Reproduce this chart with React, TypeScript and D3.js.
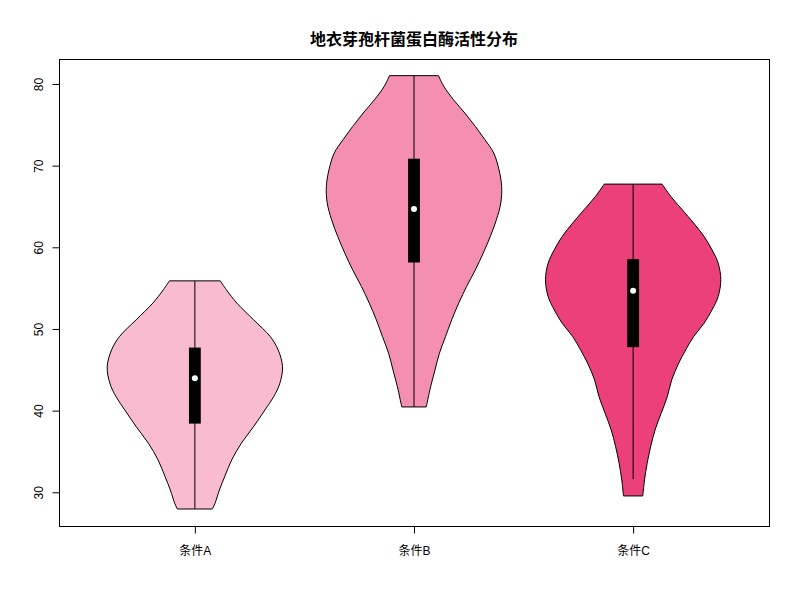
import * as d3 from 'd3';
import { useEffect, useRef } from 'react';

// Categories and colours
const categories = ['条件A', '条件B', '条件C'];
const fills = ['#F8BBD0', '#F48FB1', '#EC407A'];
const title = '地衣芽孢杆菌蛋白酶活性分布';
const yTicks = [30, 40, 50, 60, 70, 80];

// Violin outlines: value and relative density (max = 1)
const profileValuesA = [27.95, 28.65, 30.28, 31.91, 33.96, 36.0, 38.04, 40.09, 41.72, 43.36, 45.39, 47.44, 49.07, 51.12, 53.16, 54.79, 55.89];
const profileDensityA = [0.2, 0.23, 0.28, 0.34, 0.42, 0.53, 0.67, 0.8, 0.9, 0.97, 1.0, 0.95, 0.86, 0.67, 0.48, 0.36, 0.29];

const profileValuesB = [40.45, 42.94, 44.99, 47.03, 49.07, 51.12, 53.16, 55.2, 57.24, 59.29, 61.32, 63.37, 65.42, 67.45, 69.5, 71.54, 73.17, 74.8, 76.44, 78.08, 79.71, 81.02];
const profileDensityB = [0.14, 0.19, 0.24, 0.29, 0.36, 0.43, 0.51, 0.6, 0.7, 0.79, 0.87, 0.94, 0.99, 1.0, 0.97, 0.91, 0.81, 0.7, 0.58, 0.45, 0.34, 0.28];

const profileValuesC = [29.55, 31.51, 33.55, 35.59, 37.63, 39.68, 41.72, 43.76, 45.81, 47.44, 49.07, 50.71, 52.34, 53.97, 56.02, 58.06, 59.69, 61.32, 62.97, 64.6, 66.23, 67.74];
const profileDensityC = [0.11, 0.13, 0.16, 0.2, 0.25, 0.32, 0.39, 0.44, 0.52, 0.6, 0.69, 0.81, 0.9, 0.97, 1.0, 0.97, 0.9, 0.81, 0.69, 0.56, 0.43, 0.33];

// Box summaries
const q1 = [38.41, 58.14, 47.77];
const medians = [43.97, 64.68, 54.67];
const q3 = [47.72, 70.85, 58.55];
const whiskerLow = [27.95, 40.45, 31.6];
const whiskerHigh = [55.89, 81.02, 67.74];

const profileValues = [profileValuesA, profileValuesB, profileValuesC];
const profileDensity = [profileDensityA, profileDensityB, profileDensityC];

const FONT = '"Liberation Sans", Arial, "Noto Sans CJK SC", sans-serif';

export default function App() {
    const svgRef = useRef<SVGSVGElement>(null);

    useEffect(() => {
        const svg = d3.select(svgRef.current);
        svg.selectAll('*').remove();

        const width = 800;
        const height = 600;
        const margin = { top: 59, right: 31, bottom: 74, left: 59 };

        const x = d3.scaleLinear().domain([0.38, 3.62]).range([margin.left, width - margin.right]);
        const y = d3.scaleLinear().domain([25.87, 83.06]).range([height - margin.bottom, margin.top]);

        const halfWidth = 0.4;
        const boxHalf = 0.027;

        svg.append('rect').attr('width', width).attr('height', height).attr('fill', '#fff');

        // Violins
        categories.forEach((_, i) => {
            const c = i + 1;
            const pts = profileValues[i].map((v, j) => ({ v, d: profileDensity[i][j] }));
            const area = d3
                .area<{ v: number; d: number }>()
                .y((p) => y(p.v))
                .x0((p) => x(c - p.d * halfWidth))
                .x1((p) => x(c + p.d * halfWidth))
                .curve(d3.curveCatmullRom);

            svg.append('path')
                .datum(pts)
                .attr('d', area)
                .attr('fill', fills[i])
                .attr('stroke', '#000')
                .attr('stroke-width', 1);

            svg.append('line')
                .attr('x1', x(c)).attr('x2', x(c))
                .attr('y1', y(whiskerLow[i])).attr('y2', y(whiskerHigh[i]))
                .attr('stroke', '#000')
                .attr('stroke-width', 1);

            svg.append('rect')
                .attr('x', x(c - boxHalf))
                .attr('width', x(c + boxHalf) - x(c - boxHalf))
                .attr('y', y(q3[i]))
                .attr('height', y(q1[i]) - y(q3[i]))
                .attr('fill', '#000');

            svg.append('circle')
                .attr('cx', x(c))
                .attr('cy', y(medians[i]))
                .attr('r', 3)
                .attr('fill', '#fff');
        });

        // Plot box
        svg.append('rect')
            .attr('x', margin.left + 0.5)
            .attr('y', margin.top + 0.5)
            .attr('width', width - margin.left - margin.right)
            .attr('height', height - margin.top - margin.bottom)
            .attr('fill', 'none')
            .attr('stroke', '#000')
            .attr('stroke-width', 1);

        // Y axis
        const yAxis = svg.append('g')
            .attr('transform', `translate(${margin.left + 0.5},0)`)
            .call(d3.axisLeft(y).tickValues(yTicks).tickSize(7).tickSizeOuter(0));
        yAxis.select('.domain').remove();
        yAxis.selectAll('text')
            .attr('font-family', FONT)
            .attr('font-size', 12)
            .attr('fill', '#000')
            .attr('x', null)
            .attr('dy', null)
            .attr('text-anchor', 'middle')
            .attr('transform', 'translate(-17,0) rotate(-90)');

        // X axis
        const xAxis = svg.append('g')
            .attr('transform', `translate(0,${height - margin.bottom + 0.5})`)
            .call(d3.axisBottom(x).tickValues([1, 2, 3]).tickSize(7).tickSizeOuter(0)
                .tickFormat((d) => categories[(d as number) - 1]));
        xAxis.select('.domain').remove();
        xAxis.selectAll('text')
            .attr('font-family', FONT)
            .attr('font-size', 12)
            .attr('fill', '#000')
            .attr('dy', null)
            .attr('y', 28);

        // Title
        svg.append('text')
            .attr('x', (margin.left + width - margin.right) / 2)
            .attr('y', 45)
            .attr('text-anchor', 'middle')
            .attr('font-family', '"Noto Sans CJK SC", sans-serif')
            .attr('font-weight', 'bold')
            .attr('font-size', 16)
            .text(title);
    }, []);

    return (
        <svg ref={svgRef} width={800} height={600}
            style={{ position: 'absolute', left: 0, top: 0, display: 'block' }} />
    );
}
